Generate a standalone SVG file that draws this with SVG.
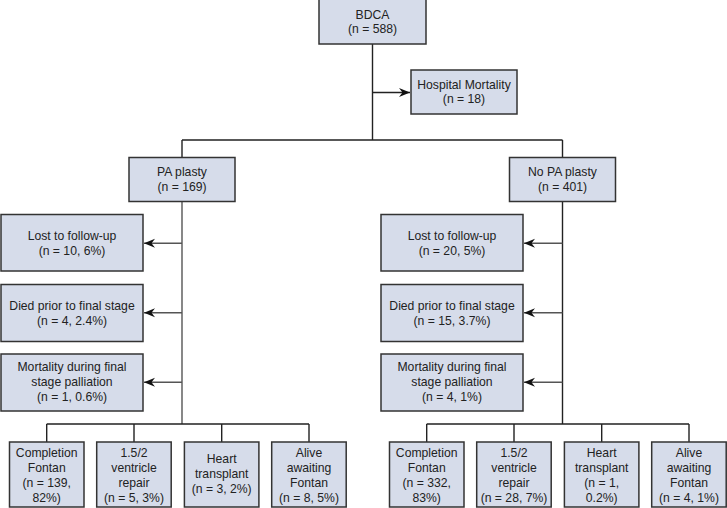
<svg xmlns="http://www.w3.org/2000/svg" width="727" height="508" viewBox="0 0 727 508">
<defs>
<style>
.box{fill:#d6dcea;stroke:#333;stroke-width:1.5}
text{font-family:"Liberation Sans",Arial,sans-serif;font-size:12.2px;fill:#222;text-anchor:middle}
.ln{stroke:#222;stroke-width:1.4;fill:none}
.gl{stroke:#555;stroke-width:1.4;fill:none}
</style>
<marker id="ah" viewBox="-11 -5 11 10" refX="0" refY="0" markerWidth="11" markerHeight="10" markerUnits="userSpaceOnUse" orient="auto">
<path d="M0,0 L-11,-4.5 L-7.5,0 L-11,4.5 Z" fill="#111"/>
</marker>
</defs>
<rect width="727" height="508" fill="#fff"/>
<g id="connectors">
<path class="ln" d="M372.5,44 V140 M182,140 H562.5 M182,140 V157.5 M562.5,140 V157.5"/>
<path class="ln" d="M372.5,92.5 H410" marker-end="url(#ah)"/>
<path class="gl" d="M182,201.5 V424"/>
<path class="gl" d="M182,243.3 H144" marker-end="url(#ah)"/>
<path class="gl" d="M182,312.7 H144" marker-end="url(#ah)"/>
<path class="gl" d="M182,382.3 H144" marker-end="url(#ah)"/>
<path class="ln" d="M46.7,424 H309 M46.7,424 V442 M134,424 V442 M221.7,424 V442 M309,424 V442"/>
<path class="ln" d="M562.5,201.5 V424"/>
<path class="gl" d="M562.5,243.3 H524" marker-end="url(#ah)"/>
<path class="gl" d="M562.5,312.7 H524" marker-end="url(#ah)"/>
<path class="gl" d="M562.5,382.3 H524" marker-end="url(#ah)"/>
<path class="ln" d="M426.7,424 H689 M426.7,424 V442 M514,424 V442 M601.7,424 V442 M689,424 V442"/>
</g>
<g id="bdca"><rect class="box" x="319" y="-1" width="107" height="45"/><text x="372.5" y="19">BDCA</text><text x="372.5" y="33">(n = 588)</text></g>
<g id="hospital-mortality"><rect class="box" x="411" y="70" width="106" height="44"/><text x="464" y="88.5">Hospital Mortality</text><text x="464" y="103">(n = 18)</text></g>
<g id="pa-plasty"><rect class="box" x="129" y="157.5" width="106" height="44"/><text x="182" y="176">PA plasty</text><text x="182" y="190.5">(n = 169)</text></g>
<g id="no-pa-plasty"><rect class="box" x="509.5" y="157.5" width="106" height="44"/><text x="562.5" y="176">No PA plasty</text><text x="562.5" y="190.5">(n = 401)</text></g>
<g id="l-lost"><rect class="box" x="1" y="214.5" width="142" height="56.5"/><text x="72" y="240">Lost to follow-up</text><text x="72" y="254.5">(n = 10, 6%)</text></g>
<g id="l-died"><rect class="box" x="1" y="284.5" width="142" height="57"/><text x="72" y="310">Died prior to final stage</text><text x="72" y="324.5">(n = 4, 2.4%)</text></g>
<g id="l-mort"><rect class="box" x="1" y="354" width="142" height="57"/><text x="72" y="370.7">Mortality during final</text><text x="72" y="385.7">stage palliation</text><text x="72" y="400.7">(n = 1, 0.6%)</text></g>
<g id="r-lost"><rect class="box" x="381" y="214.5" width="142" height="56.5"/><text x="452" y="240">Lost to follow-up</text><text x="452" y="254.5">(n = 20, 5%)</text></g>
<g id="r-died"><rect class="box" x="381" y="284.5" width="142" height="57"/><text x="452" y="310">Died prior to final stage</text><text x="452" y="324.5">(n = 15, 3.7%)</text></g>
<g id="r-mort"><rect class="box" x="381" y="354" width="142" height="57"/><text x="452" y="370.7">Mortality during final</text><text x="452" y="385.7">stage palliation</text><text x="452" y="400.7">(n = 4, 1%)</text></g>
<g id="l-fontan"><rect class="box" x="9.5" y="442" width="74.5" height="65"/><text x="46.7" y="456.7">Completion</text><text x="46.7" y="471.7">Fontan</text><text x="46.7" y="486.7">(n = 139,</text><text x="46.7" y="501.7">82%)</text></g>
<g id="l-repair"><rect class="box" x="96.7" y="442" width="74.5" height="65"/><text x="134" y="456.7">1.5/2</text><text x="134" y="471.7">ventricle</text><text x="134" y="486.7">repair</text><text x="134" y="501.7">(n = 5, 3%)</text></g>
<g id="l-transplant"><rect class="box" x="184.4" y="442" width="74.5" height="65"/><text x="221.7" y="463.3">Heart</text><text x="221.7" y="478.3">transplant</text><text x="221.7" y="493.3">(n = 3, 2%)</text></g>
<g id="l-alive"><rect class="box" x="271.7" y="442" width="74.5" height="65"/><text x="309" y="456.7">Alive</text><text x="309" y="471.7">awaiting</text><text x="309" y="486.7">Fontan</text><text x="309" y="501.7">(n = 8, 5%)</text></g>
<g id="r-fontan"><rect class="box" x="389.5" y="442" width="74.5" height="65"/><text x="426.7" y="456.7">Completion</text><text x="426.7" y="471.7">Fontan</text><text x="426.7" y="486.7">(n = 332,</text><text x="426.7" y="501.7">83%)</text></g>
<g id="r-repair"><rect class="box" x="476.7" y="442" width="74.5" height="65"/><text x="514" y="456.7">1.5/2</text><text x="514" y="471.7">ventricle</text><text x="514" y="486.7">repair</text><text x="514" y="501.7">(n = 28, 7%)</text></g>
<g id="r-transplant"><rect class="box" x="564.4" y="442" width="74.5" height="65"/><text x="601.7" y="456.7">Heart</text><text x="601.7" y="471.7">transplant</text><text x="601.7" y="486.7">(n = 1,</text><text x="601.7" y="501.7">0.2%)</text></g>
<g id="r-alive"><rect class="box" x="651.7" y="442" width="74.5" height="65"/><text x="689" y="456.7">Alive</text><text x="689" y="471.7">awaiting</text><text x="689" y="486.7">Fontan</text><text x="689" y="501.7">(n = 4, 1%)</text></g>
</svg>
